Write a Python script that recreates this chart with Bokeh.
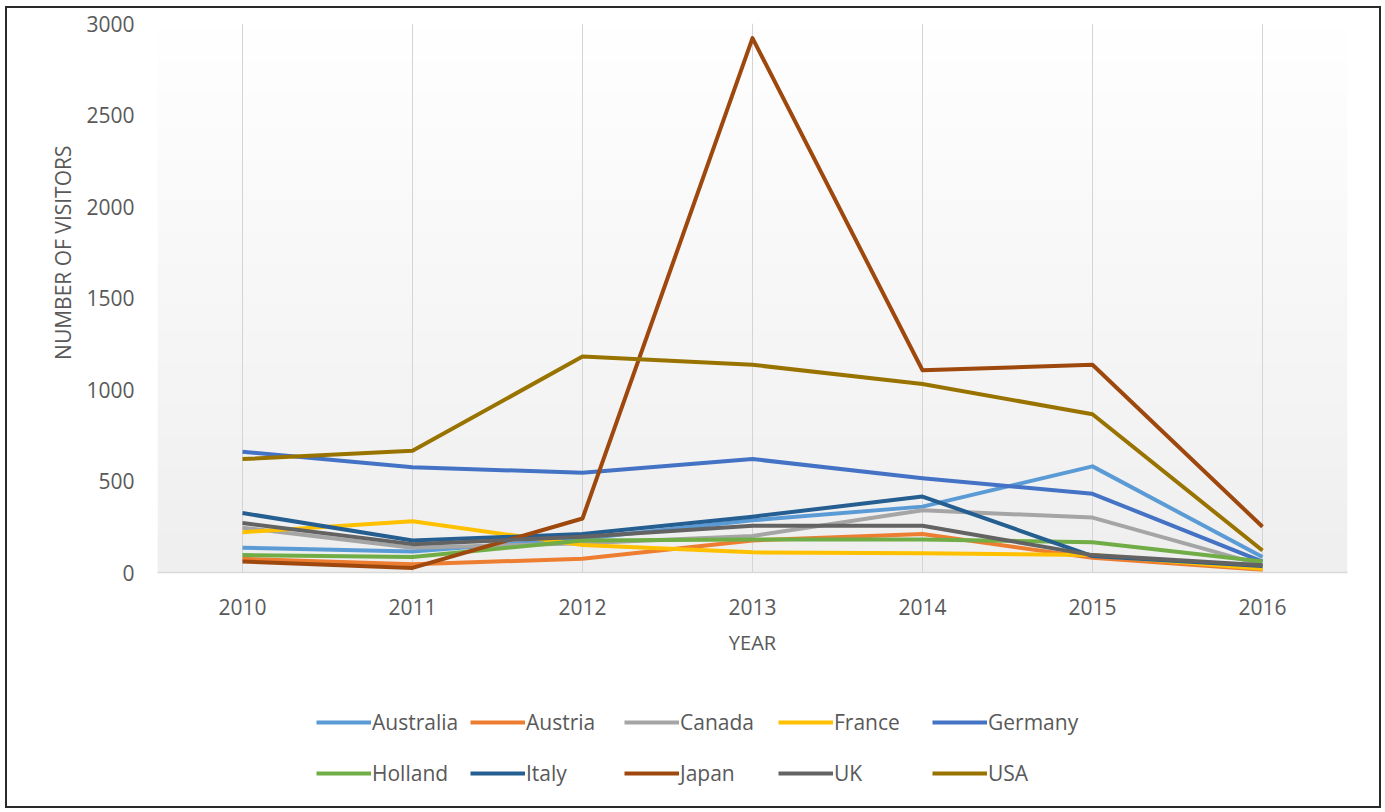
import numpy as np
from bokeh.plotting import figure
from bokeh.layouts import column
from bokeh.models import FactorRange, Range1d, Legend, LegendItem, Title, FixedTicker
from bokeh.embed import file_html
from bokeh.resources import INLINE

years = ["2010", "2011", "2012", "2013", "2014", "2015", "2016"]

australia = [135, 115, 185, 285, 360, 580, 85]
austria = [75, 45, 75, 175, 210, 80, 15]
canada = [245, 135, 160, 200, 340, 300, 40]
france = [220, 280, 150, 110, 105, 95, 20]
germany = [660, 575, 545, 620, 515, 430, 60]
holland = [95, 85, 175, 180, 180, 165, 60]
italy = [325, 175, 210, 305, 415, 90, 35]
japan = [60, 25, 295, 2920, 1105, 1135, 250]
uk = [270, 155, 195, 255, 255, 95, 40]
usa = [620, 665, 1180, 1135, 1030, 865, 120]

countries = ["Australia", "Austria", "Canada", "France", "Germany",
             "Holland", "Italy", "Japan", "UK", "USA"]
series = [australia, austria, canada, france, germany,
          holland, italy, japan, uk, usa]
colors = ["#5B9BD5", "#ED7D31", "#A5A5A5", "#FFC000", "#4472C4",
          "#70AD47", "#255E91", "#9E480E", "#636363", "#997300"]
y_ticks = [0, 500, 1000, 1500, 2000, 2500, 3000]

FONT = "Open Sans"
TXT = "#595959"
W = 1372
H1 = 664
H2 = 134
TOP = 15
FRAME_H = 549

p = figure(width=W, height=H1,
           x_range=FactorRange(*years), y_range=Range1d(0, 3000),
           output_backend="svg", toolbar_location=None,
           min_border_left=150, min_border_right=32,
           min_border_top=TOP, min_border_bottom=H1 - TOP - FRAME_H,
           outline_line_color=None, border_fill_color="white",
           background_fill_color="white")

# plot-area gradient background
n = 100
frac = np.linspace(0, 1, n)
lev = (239 + (255 - 239) * frac).astype(np.uint8)
img = np.zeros((n, 1), dtype=np.uint32)
view = img.view(dtype=np.uint8).reshape((n, 1, 4))
view[:, 0, 0] = lev
view[:, 0, 1] = lev
view[:, 0, 2] = lev
view[:, 0, 3] = 255
p.image_rgba(image=[img], x=0, y=0, dw=len(years), dh=3000, level="image")

for name, vals, col in zip(countries, series, colors):
    p.line(years, vals, line_color=col, line_width=4, line_join="round")

p.xgrid.grid_line_color = "#D4D4D4"
p.xgrid.grid_line_width = 1
p.ygrid.grid_line_color = None

p.xaxis.axis_line_color = "#D9D9D9"
p.xaxis.axis_line_width = 1.5
p.xaxis.major_tick_line_color = None
p.xaxis.minor_tick_line_color = None
p.xaxis.major_label_text_font = FONT
p.xaxis.major_label_text_font_size = "21px"
p.xaxis.major_label_text_color = TXT
p.xaxis.major_label_standoff = 20
p.xaxis.axis_label = "YEAR"
p.xaxis.axis_label_text_font = FONT
p.xaxis.axis_label_text_font_size = "20px"
p.xaxis.axis_label_text_font_style = "normal"
p.xaxis.axis_label_text_color = TXT
p.xaxis.axis_label_standoff = 11

p.yaxis.ticker = FixedTicker(ticks=y_ticks)
p.yaxis.axis_line_color = None
p.yaxis.major_tick_line_color = None
p.yaxis.minor_tick_line_color = None
p.yaxis.major_label_text_font = FONT
p.yaxis.major_label_text_font_size = "21px"
p.yaxis.major_label_text_color = TXT
p.yaxis.major_label_standoff = 17

ytitle = Title(text="NUMBER OF VISITORS", align="right", offset=122,
               text_font=FONT, text_font_size="21px", text_font_style="normal",
               text_color=TXT, standoff=14)
p.add_layout(ytitle, "left")

# legend strip below the chart
p2 = figure(width=W, height=H2, x_range=Range1d(0, 1), y_range=Range1d(0, 1),
            output_backend="svg", toolbar_location=None,
            x_axis_type=None, y_axis_type=None,
            min_border=0, outline_line_color=None,
            border_fill_color="white", background_fill_color="white")
p2.grid.visible = False
key_renderers = [p2.line(x=[0.5], y=[-1.0], line_color=col, line_width=4) for col in colors]
legend = Legend(items=[LegendItem(label=n_, renderers=[r]) for n_, r in zip(countries, key_renderers)],
                orientation="horizontal", ncols=5, location=(159, 8),
                glyph_width=55, glyph_height=50, label_height=50, label_width=97,
                label_standoff=1, spacing=1, padding=0, margin=0,
                border_line_alpha=0, background_fill_alpha=0,
                label_text_font=FONT, label_text_font_size="21px",
                label_text_color=TXT)
p2.add_layout(legend, "center")

layout = column(p, p2, spacing=0,
                styles={"border": "2px solid #2a2a2a", "margin-left": "5px", "margin-top": "6px"})

open("out.html", "w").write(file_html(layout, INLINE))
